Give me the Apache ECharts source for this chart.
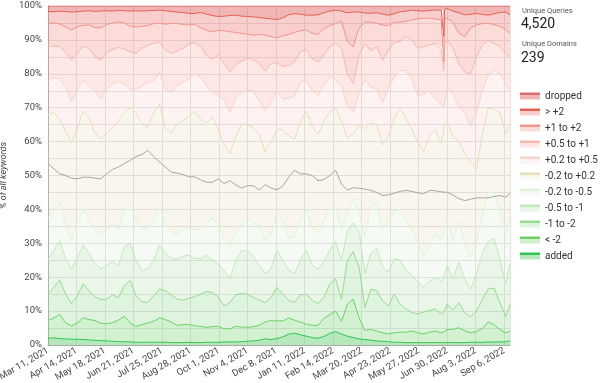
<!DOCTYPE html>
<html><head><meta charset="utf-8">
<script src="https://cdn.jsdelivr.net/npm/echarts/dist/echarts.min.js"></script>
<style>html,body{margin:0;padding:0;background:#fff}#c{width:600px;height:383px}</style>
</head><body><div id="c"></div>
<script>
// day offsets from Mar 11, 2021
const startDate = Date.UTC(2021, 2, 11);
const days = [0,7,14,21,28,35,42,49,56,63,70,77,84,91,98,105,112,119,126,133,
140,147,154,161,168,175,182,189,196,203,210,217,224,231,238,245,252,259,266,273,
280,287,294,301,308,315,322,329,336,343,350,357,364,371,378,385,392,399,406,413,
420,427,434,441,448,455,462,469,471,472,473,476,483,490,497,504,511,518,525,532,539,546,551];
const lastDay = 551;

const xTickLabels = ['Mar 11, 2021','Apr 14, 2021','May 18, 2021','Jun 21, 2021','Jul 25, 2021','Aug 28, 2021','Oct 1, 2021','Nov 4, 2021','Dec 8, 2021','Jan 11, 2022','Feb 14, 2022','Mar 20, 2022','Apr 23, 2022','May 27, 2022','Jun 30, 2022','Aug 3, 2022','Sep 6, 2022'];
const tickStepDays = 34;

// cumulative tops of each band (% of all keywords)
const addedTop = [2.0,2.1,1.9,1.8,1.7,1.7,1.6,1.5,1.4,1.3,1.2,1.1,1.0,1.0,0.9,0.8,0.8,0.8,0.8,0.8,
0.8,0.7,0.7,0.7,0.8,0.7,0.7,0.8,0.8,0.8,0.9,0.9,0.9,1.0,1.1,1.2,1.4,1.8,1.6,1.9,
2.4,3.2,3.5,3.0,2.6,2.2,2.0,2.5,3.4,4.0,3.2,2.6,2.2,1.8,1.6,1.4,1.2,1.1,1.0,0.8,
0.8,0.7,0.7,0.7,0.7,0.7,0.7,0.7,0.7,0.7,0.7,0.7,0.7,0.7,0.7,0.8,0.8,0.8,0.9,0.9,0.9,1.0,1.2];

const lessMinus2Top = [7.2,8.0,9.0,6.5,5.7,6.5,8.0,7.5,7.2,6.4,6.3,6.6,7.3,8.5,6.5,5.5,6.0,6.5,7.0,8.0,
7.5,6.8,5.8,6.0,6.0,5.7,5.5,5.2,5.4,5.5,4.8,4.8,5.5,5.3,5.2,5.4,5.8,6.8,7.2,7.1,
7.1,8.0,7.3,6.8,6.1,5.8,5.8,7.8,9.0,10.0,7.0,12.0,13.5,8.0,4.3,4.6,4.1,3.6,3.3,3.6,
3.8,3.8,4.1,3.6,3.3,3.8,4.1,3.6,3.8,3.8,3.9,4.6,4.6,5.1,4.2,3.6,4.0,4.8,6.8,6.0,4.5,3.6,4.1];

const minus1to2Top = [15.0,17.0,19.2,15.0,12.2,14.5,18.0,16.0,14.2,13.5,13.5,14.8,14.0,17.5,19.0,14.5,12.8,12.5,14.5,16.5,
16.0,14.8,13.5,13.2,13.8,14.3,15.0,15.8,15.5,14.2,11.5,12.5,14.8,15.2,15.0,14.0,13.3,12.5,14.0,17.0,
15.0,13.2,12.6,14.8,15.0,13.2,12.2,14.0,18.0,19.5,13.5,25.0,27.5,23.0,11.0,16.5,16.0,13.0,11.5,15.0,
12.0,10.6,9.6,9.2,9.7,10.2,10.6,9.2,9.5,9.6,10.0,12.0,10.3,12.5,9.5,8.3,10.0,13.5,16.5,16.8,12.5,8.3,12.0];

const minus05to1Top = [25.0,28.0,30.8,25.5,22.2,26.0,29.5,27.0,24.0,22.5,23.5,24.5,23.5,29.0,30.0,25.0,22.0,22.5,25.0,29.5,
27.0,25.5,25.3,26.2,26.5,25.5,25.5,26.5,25.0,23.9,22.0,19.5,25.0,27.8,27.8,26.0,23.5,21.0,22.5,28.0,
25.0,22.0,21.0,25.0,28.0,23.5,22.4,24.5,28.0,30.5,25.0,33.5,36.0,33.5,21.0,27.0,28.5,23.0,21.5,25.5,
25.0,22.0,20.5,18.5,17.2,18.9,19.9,18.9,19.5,20.0,21.0,23.5,19.5,24.5,19.5,16.5,21.0,27.0,30.5,31.5,25.0,18.0,23.9];

const minus02to05Top = [37.5,39.5,42.0,35.5,31.0,36.0,40.0,37.0,33.8,32.5,34.0,35.5,34.0,40.0,41.5,37.0,34.0,34.5,37.0,41.0,
36.0,33.5,32.7,33.8,34.5,34.0,34.5,36.0,37.5,35.5,31.5,29.0,33.0,36.0,37.5,36.0,34.8,31.0,32.5,39.0,
36.7,31.5,32.0,36.5,40.0,34.5,33.0,36.5,40.0,41.0,34.0,39.5,43.0,39.0,32.0,41.0,42.0,34.0,36.5,39.5,
40.0,36.7,34.0,30.0,26.5,29.0,32.7,31.5,32.5,33.5,35.0,37.5,31.0,36.5,29.5,26.0,30.0,38.0,45.0,45.0,39.5,32.7,37.7];

const neutralTop = [68.0,68.5,66.5,63.0,59.5,64.0,69.0,67.0,62.5,60.8,62.5,64.0,66.0,68.7,70.0,68.5,65.5,64.3,68.5,71.0,
64.0,62.5,65.3,66.2,67.5,69.0,66.5,65.6,67.3,63.5,59.0,56.5,61.5,65.2,65.0,64.0,62.0,57.0,60.0,63.5,
63.5,61.8,60.6,66.0,69.0,64.5,62.0,66.0,68.7,69.8,66.0,61.0,62.3,65.0,63.8,65.5,65.0,59.0,61.5,67.0,
70.0,67.0,63.5,60.0,57.0,61.5,63.5,59.5,62.0,64.0,65.5,66.0,61.5,60.0,56.5,54.0,52.0,62.0,70.0,69.5,68.5,62.3,65.3];

const plus02to05Top = [78.0,78.8,78.5,76.0,71.8,75.1,78.0,76.5,75.0,72.5,75.5,77.0,77.8,77.0,75.5,75.3,76.5,77.5,78.0,80.3,
75.5,74.5,76.6,77.5,78.5,80.0,78.8,76.5,74.5,73.5,72.5,68.5,73.0,74.5,75.2,75.0,72.0,69.0,71.5,75.0,
72.5,72.8,73.5,77.5,78.0,75.0,73.5,76.5,79.1,78.2,76.5,70.5,68.7,74.5,78.2,76.0,75.6,71.5,76.0,79.0,
81.0,81.0,78.5,73.5,74.0,75.0,72.5,71.0,70.5,70.2,71.5,76.0,74.0,70.2,68.5,64.5,68.5,75.0,79.5,81.0,80.0,77.0,75.1];

const plus05to1Top = [88.0,88.2,88.0,86.5,84.0,86.0,88.2,87.5,85.2,84.0,86.2,87.2,87.8,87.3,86.5,86.0,87.5,88.3,89.0,89.3,
87.0,86.0,86.7,87.5,88.8,89.2,88.0,85.5,84.2,85.5,83.0,80.6,82.8,83.8,84.5,84.2,83.0,80.8,83.0,83.3,
82.2,82.4,83.5,86.5,87.0,84.5,83.5,85.5,88.0,89.0,87.5,80.0,77.2,85.5,88.8,86.8,88.0,84.0,87.0,89.2,
89.5,91.0,90.0,87.5,88.0,88.5,89.0,87.0,87.5,81.0,88.5,90.0,87.5,83.0,80.5,80.0,85.0,88.5,89.8,89.0,88.0,86.0,85.0];

const plus1to2Top = [94.8,95.0,94.7,93.8,92.9,93.9,94.3,94.4,93.6,93.6,94.5,95.0,95.3,95.0,94.0,93.8,94.0,94.2,94.8,95.0,
94.6,94.9,94.8,94.6,94.4,94.6,93.6,92.8,92.4,92.8,92.7,92.4,92.2,91.9,91.7,91.4,91.6,91.4,91.0,90.6,
91.2,91.6,92.2,92.7,92.9,92.0,91.6,93.3,94.2,94.8,95.6,89.5,88.0,93.5,95.2,95.2,94.9,94.4,94.2,95.2,
95.2,95.5,95.9,96.2,96.4,96.4,96.2,95.9,95.9,83.5,96.0,96.4,95.2,91.9,91.0,93.5,94.4,94.8,94.9,94.5,94.0,93.0,91.9];

const plus2Top = [98.4,98.3,98.5,98.4,98.2,98.3,98.5,98.6,98.4,98.5,98.6,98.5,98.7,98.6,98.5,98.6,98.5,98.6,98.7,98.8,
98.6,98.4,98.2,98.1,97.8,97.8,98.1,97.6,97.2,96.9,97.0,97.2,97.3,97.0,96.9,96.8,96.6,96.4,96.2,96.0,
96.5,97.4,97.7,97.6,97.3,97.3,97.4,98.0,98.5,98.8,98.5,98.0,98.2,98.2,97.9,97.9,98.0,97.6,97.3,97.7,
98.3,98.5,98.8,98.6,98.5,98.7,98.8,98.8,98.8,91.0,99.0,99.3,98.5,98.0,97.4,97.5,97.8,97.5,97.3,97.7,98.1,98.2,97.4];

// separate grey line inside the neutral band
const greyLine = [53.5,52.0,50.5,50.0,49.2,49.0,49.5,49.5,49.2,49.0,50.5,51.8,52.5,53.5,54.5,55.6,56.2,57.4,55.6,54.0,
52.5,51.0,50.7,50.3,49.6,49.6,48.7,48.0,48.0,49.0,47.6,48.5,47.2,46.3,47.0,47.0,45.7,47.3,46.3,45.8,
46.8,49.5,51.5,50.5,50.5,50.0,48.5,48.8,50.0,51.5,47.5,45.7,46.4,46.2,46.0,45.6,45.0,44.1,44.3,44.8,
45.3,45.6,45.3,44.9,44.6,45.6,45.5,45.2,45.1,45.1,45.1,45.1,44.2,43.2,42.6,43.0,43.4,43.4,43.4,43.8,44.1,43.6,44.8];

const bandNames = ['added','< -2','-1 to -2','-0.5 to -1','-0.2 to -0.5','-0.2 to +0.2','+0.2 to +0.5','+0.5 to +1','+1 to +2','> +2','dropped'];
const uniqueQueries = '4,520';
const uniqueDomains = '239';

const lineColors = ['#2fc552','#6bd266','#96dc8e','#c2eabb','#dff3da','#e6dfbd','#f8d3cd','#f6b9b0','#f1968a','#e6604f','#e06a6a'];
const areaColors = ['rgba(80,200,100,0.42)','rgba(130,215,125,0.36)','rgba(150,220,145,0.3)','rgba(170,225,165,0.25)','rgba(200,235,195,0.18)',
  'rgba(225,210,165,0.2)','rgba(245,170,160,0.14)','rgba(245,150,140,0.22)','rgba(240,130,120,0.28)','rgba(235,110,100,0.33)','rgba(220,80,80,0.42)'];

const DAY = 86400000;
const tops = [addedTop,lessMinus2Top,minus1to2Top,minus05to1Top,minus02to05Top,neutralTop,plus02to05Top,plus05to1Top,plus1to2Top,plus2Top];
const bands = [];
for (let b = 0; b < 11; b++) {
  bands.push(days.map((d, i) => {
    const hi = b < 10 ? tops[b][i] : 100;
    const lo = b > 0 ? tops[b-1][i] : 0;
    return [startDate + d * DAY, +(hi - lo).toFixed(3)];
  }));
}

const chart = echarts.init(document.getElementById('c'), null, {renderer:'canvas'});
const series = bands.map((data, b) => ({
  type:'line', name: bandNames[b], stack:'all', data, xAxisIndex:0,
  symbol:'none', showSymbol:false, smooth:false,
  lineStyle:{width:1, color: lineColors[b]},
  itemStyle:{color: lineColors[b]},
  areaStyle:{color: areaColors[b], opacity:1},
  emphasis:{disabled:true}, silent:true
}));
series.push({
  type:'line', name:'grey', xAxisIndex:0, data: days.map((d,i)=>[startDate + d * DAY, greyLine[i]]),
  symbol:'none', showSymbol:false, lineStyle:{width:1, color:'#aaa69e'}, itemStyle:{color:'#aaa69e'},
  emphasis:{disabled:true}, silent:true, z:3
});

function legendGrad(b){
  return new echarts.graphic.LinearGradient(0,0,0,1,[
    {offset:0,color:lineColors[b]},{offset:0.35,color:lineColors[b]},
    {offset:0.35,color:areaColors[b]},{offset:1,color:areaColors[b]}]);
}

chart.setOption({
  animation:false,
  backgroundColor:'#fff',
  textStyle:{fontFamily:'Roboto'},
  grid:{left:48, right:90, top:6, bottom:38, containLabel:false, outerBoundsMode:'none'},
  xAxis:[{
    // time scale that positions the data
    type:'time', position:'top', min:startDate, max:startDate + lastDay * DAY,
    axisLine:{show:false}, axisTick:{show:false}, axisLabel:{show:false}, splitLine:{show:false}
  },{
    // same extent in day offsets, carrying the 34-day ticks
    type:'value', position:'bottom', min:0, max:lastDay, interval:tickStepDays,
    axisLine:{show:true, lineStyle:{color:'#aaa'}},
    axisTick:{show:false},
    splitLine:{show:true, lineStyle:{color:'#e2e2e2', width:1}},
    axisLabel:{rotate:30, fontSize:9.5, color:'#444', margin:5, showMaxLabel:false, fontFamily:'Roboto',
      formatter:v => (v % tickStepDays === 0 && xTickLabels[v/tickStepDays]) ? xTickLabels[v/tickStepDays] : ''}
  }],
  yAxis:{
    type:'value', min:0, max:100, interval:5,
    name:'% of all keywords', nameLocation:'middle', nameGap:31,
    nameTextStyle:{fontStyle:'italic', fontSize:9, color:'#444', fontFamily:'Roboto'},
    axisLine:{show:true, lineStyle:{color:'#aaa'}},
    axisTick:{show:false},
    splitLine:{show:true, lineStyle:{color:'#e2e2e2', width:1}},
    axisLabel:{fontSize:9.5, color:'#444', margin:6, fontFamily:'Roboto', formatter:v => v % 10 === 0 ? v + '%' : ''}
  },
  legend:{
    orient:'vertical', left:520, top:91, padding:0, itemWidth:20, itemHeight:7, itemGap:6,
    selectedMode:false,
    textStyle:{fontSize:10, color:'#333', fontFamily:'Roboto'},
    data: bandNames.map((n,b)=>({name:n, icon:'rect', itemStyle:{color:legendGrad(b), borderWidth:0}})).reverse()
  },
  graphic:[
    {type:'text', x:522, y:11, style:{text:'Unique Queries', fontSize:7.5, fill:'#555', fontFamily:'Roboto', verticalAlign:'middle'}},
    {type:'text', x:521, y:24, style:{text:uniqueQueries, fontSize:14, fill:'#222', fontFamily:'Roboto', verticalAlign:'middle'}},
    {type:'text', x:522, y:44, style:{text:'Unique Domains', fontSize:7.5, fill:'#555', fontFamily:'Roboto', verticalAlign:'middle'}},
    {type:'text', x:521, y:58, style:{text:uniqueDomains, fontSize:14, fill:'#222', fontFamily:'Roboto', verticalAlign:'middle'}}
  ],
  series
});
</script></body></html>
